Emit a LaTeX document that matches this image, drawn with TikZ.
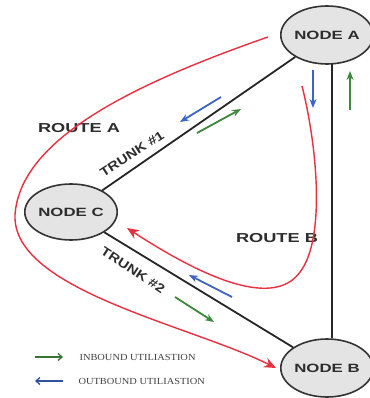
\documentclass[tikz,border=0pt]{standalone}
\usepackage{fontspec}
\setmainfont{Liberation Serif}
\setsansfont{Liberation Sans}
\newfontfamily\widesans[FakeStretch=1.4]{Liberation Sans}
\newfontfamily\midsans[FakeStretch=1.2]{Liberation Sans}
\newfontfamily\wideserif[FakeStretch=1.12]{Liberation Serif}
\usetikzlibrary{arrows.meta,shapes.geometric}
\definecolor{rred}{RGB}{232,48,64}
\definecolor{ggreen}{RGB}{62,136,62}
\definecolor{bblue}{RGB}{60,100,200}
\definecolor{nodefill}{RGB}{228,228,228}
\definecolor{txt}{RGB}{45,45,45}
\tikzset{
  netnode/.style={ellipse,draw=black!80,line width=1.6pt,fill=nodefill,minimum width=#1,minimum height=58pt,inner sep=0pt,text=txt,font=\widesans\bfseries\fontsize{12}{12}\selectfont},
  trunk/.style={draw=black!85,line width=1.8pt},
  route/.style={draw=rred,line width=1.4pt},
  routearrow/.style={route,-{Stealth[length=12pt,width=10pt]}},
  inarrow/.style={draw=ggreen,line width=1.8pt,-{Stealth[length=9pt,width=7pt]}},
  outarrow/.style={draw=bblue,line width=1.8pt,-{Stealth[length=9pt,width=7pt]}},
  lbl/.style={text=txt,font=\widesans\bfseries\fontsize{13}{13}\selectfont},
  tlbl/.style={text=txt,font=\midsans\bfseries\fontsize{12.5}{12.5}\selectfont},
  legtext/.style={anchor=west,text=black!75,font=\wideserif\fontsize{9.3}{9.3}\selectfont},
  legin/.style={draw=ggreen!85!black,line width=1.3pt,-{Straight Barb[length=4pt,width=7pt]}},
  legout/.style={draw=bblue!80!black,line width=1.3pt,-{Straight Barb[length=4pt,width=7pt]}}
}
\begin{document}
\begin{tikzpicture}[x=1pt,y=-1pt]
\useasboundingbox (0,0) rectangle (369,398);
% nodes
\node[netnode=78pt] (A) at (327,35) {NODE A};
\node[netnode=78pt,minimum height=56pt] (C) at (71,212) {NODE C};
\node[netnode=80pt] (B) at (327,368) {NODE B};
% trunks
\draw[trunk] (A) -- (C);
\draw[trunk] (C) -- (B);
\coordinate (av) at (332,64);
\draw[trunk] (av) -- (av |- B.north);
% trunk labels
\node[tlbl,rotate=33] (t1) at (132,154) {TRUNK \#1};
\node[tlbl,rotate=-33] (t2) at (133,270) {TRUNK \#2};
% route labels
\node[lbl] (ra) at (79,128) {ROUTE A};
\node[lbl] (rb) at (277,238) {ROUTE B};
% red routes
\coordinate (raS) at (268,37);
\coordinate (raM) at (15,215);
\coordinate (raE) at (276,368);
\draw[routearrow] (raS) .. controls (130,85) and (20,140) .. (raM)
  .. controls (12,290) and (190,325) .. (raE);
\coordinate (rbS) at (302,86);
\coordinate (rbM) at (300,272);
\coordinate (rbE) at (127,228);
\draw[routearrow] (rbS) .. controls (318,150) and (325,240) .. (rbM)
  .. controls (280,300) and (230,295) .. (rbE);
% utilisation arrows trunk 1
\coordinate (o1s) at (221,97); \coordinate (o1e) at (180,122);
\draw[outarrow] (o1s) -- (o1e);
\coordinate (i1s) at (197,133); \coordinate (i1e) at (241,109);
\draw[inarrow] (i1s) -- (i1e);
% vertical
\coordinate (o2s) at (313,70); \coordinate (o2e) at (313,108);
\draw[outarrow] (o2s) -- (o2e);
\coordinate (i2s) at (350,110); \coordinate (i2e) at (350,71);
\draw[inarrow] (i2s) -- (i2e);
% trunk 2
\coordinate (o3s) at (232,297); \coordinate (o3e) at (189,275);
\draw[outarrow] (o3s) -- (o3e);
\coordinate (i3s) at (175,297); \coordinate (i3e) at (214,322);
\draw[inarrow] (i3s) -- (i3e);
% legend
\coordinate (l1s) at (35,357); \coordinate (l1e) at (63,357);
\draw[legin] (l1s) -- (l1e);
\node[legtext] (lt1) at (76,357) {INBOUND UTILIASTION};
\coordinate (l2s) at (63,381); \coordinate (l2e) at (35,381);
\draw[legout] (l2s) -- (l2e);
\node[legtext] (lt2) at (75,381) {OUTBOUND UTILIASTION};
\end{tikzpicture}
\end{document}
